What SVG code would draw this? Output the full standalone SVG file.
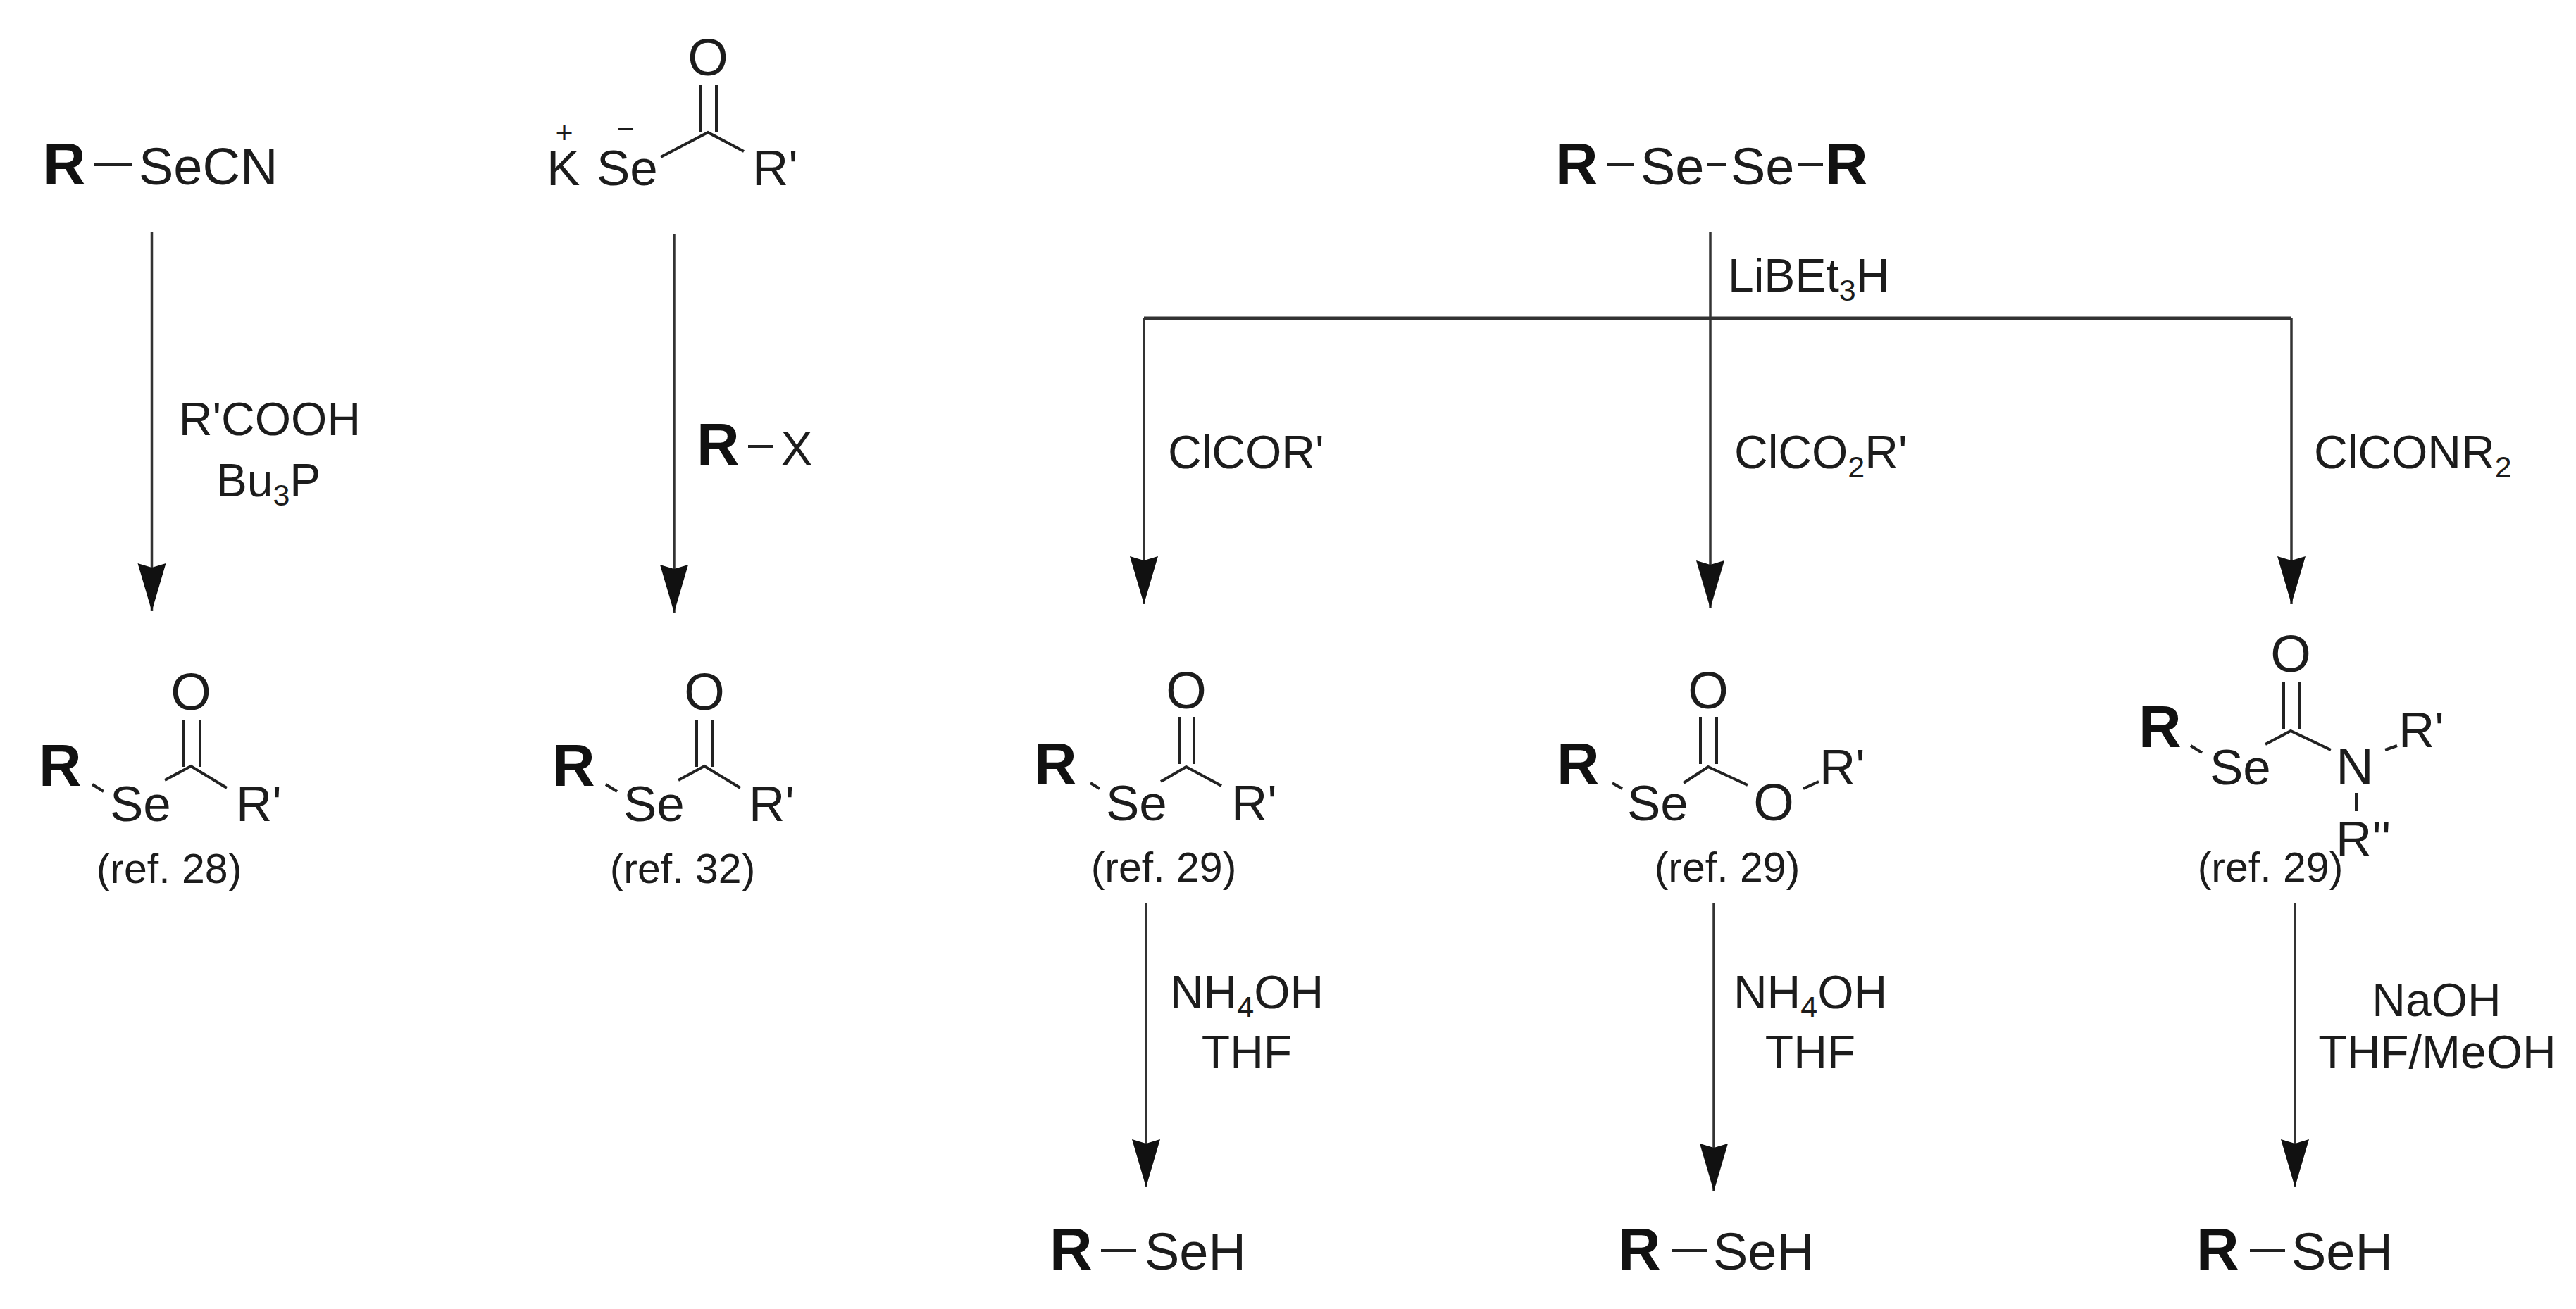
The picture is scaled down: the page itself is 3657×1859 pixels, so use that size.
<svg xmlns="http://www.w3.org/2000/svg" width="3657" height="1859" viewBox="0 0 3657 1859">
<defs>
<style>
text{font-family:"Liberation Sans",Arial,sans-serif;fill:#1c1c1c}
.a{font-size:71px}
.t{font-size:74px}
.b{font-size:84px;font-weight:bold;fill:#111}
.l{font-size:66px}
.r{font-size:59px}
.s{font-size:43px}
.bond{stroke:#222;stroke-width:4;fill:none}
.arr{stroke:#333;stroke-width:3.5;fill:none;marker-end:url(#head)}
.ln{stroke:#333;stroke-width:3.5;fill:none}
</style>
<marker id="head" markerUnits="userSpaceOnUse" markerWidth="44" markerHeight="72" viewBox="0 0 44 72" refX="22" refY="68" orient="0" overflow="visible">
<path d="M2 0L22 68L42 0L22 6Z" fill="#111"/>
</marker>
</defs>
<rect width="3657" height="1859" fill="#fff"/>
<g id="connectors">
<path class="arr" d="M215.500 329V868"/>
<path class="arr" d="M957 333V870"/>
<path class="ln" d="M2428 330V455"/>
<path class="ln" style="stroke-width:5" d="M1624 452H3253"/>
<path class="arr" d="M1624 452V858"/>
<path class="arr" d="M2428 452V864"/>
<path class="arr" d="M3253 452V858"/>
<path class="arr" d="M1627 1282V1686"/>
<path class="arr" d="M2433 1282V1692"/>
<path class="arr" d="M3258 1282V1686"/>
</g>
<g id="rsecn"><text class="b" x="61" y="262">R</text><path class="bond" d="M134 234H187"/><text class="t" x="197" y="262">SeCN</text></g>
<g id="kse"><text class="a" x="776" y="263">K</text><text class="s" x="801" y="203" text-anchor="middle">+</text><text class="s" x="888" y="198" text-anchor="middle">−</text><text class="a" x="847" y="263">Se</text><text class="t" x="1005" y="107" text-anchor="middle">O</text><path class="bond" d="M938 223L1005 188L1056 215M995 121V187M1017 121V187"/><text class="a" x="1068" y="263">R'</text></g>
<g id="lab1"><text class="l" x="383" y="618" text-anchor="middle">R'COOH</text><text class="l" x="381" y="705" text-anchor="middle">Bu<tspan class="s" dy="13">3</tspan><tspan dy="-13">P</tspan></text></g>
<g id="lab2"><text class="b" x="989" y="660">R</text><path class="bond" d="M1062 634H1098"/><text class="l" x="1109" y="660">X</text></g>
<g id="p28"><text class="b" x="55" y="1116">R</text><path class="bond" d="M131 1114L147 1124M234 1108L271 1088L322 1119M261 1023V1089M284 1023V1089"/><text class="a" x="156" y="1166">Se</text><text class="t" x="271" y="1008" text-anchor="middle">O</text><text class="a" x="335" y="1166">R'</text><text class="r" x="240" y="1254" text-anchor="middle">(ref. 28)</text></g>
<g id="p32"><text class="b" x="784" y="1116">R</text><path class="bond" d="M860 1114L876 1124M963 1108L1000 1088L1051 1119M989 1023V1089M1012 1023V1089"/><text class="a" x="885" y="1166">Se</text><text class="t" x="1000" y="1008" text-anchor="middle">O</text><text class="a" x="1063" y="1166">R'</text><text class="r" x="969" y="1254" text-anchor="middle">(ref. 32)</text></g>
<g id="rsesr"><text class="b" x="2208" y="262">R</text><path class="bond" d="M2281 234H2319M2424 234H2450M2552 234H2588"/><text class="t" x="2329" y="262">Se</text><text class="t" x="2457" y="262">Se</text><text class="b" x="2591" y="262">R</text></g>
<g id="lab3"><text class="l" x="2453" y="414">LiBEt<tspan class="s" dy="13">3</tspan><tspan dy="-13">H</tspan></text></g>
<g id="lab4"><text class="l" x="1658" y="665">ClCOR'</text></g>
<g id="lab5"><text class="l" x="2462" y="665">ClCO<tspan class="s" dy="13">2</tspan><tspan dy="-13">R'</tspan></text></g>
<g id="lab6"><text class="l" x="3285" y="665">ClCONR<tspan class="s" dy="13">2</tspan></text></g>
<g id="pa"><text class="b" x="1468" y="1114">R</text><path class="bond" d="M1548 1112L1561 1120M1648 1110L1684 1089L1734 1116M1674 1018V1085M1695 1018V1085"/><text class="a" x="1570" y="1165">Se</text><text class="t" x="1684" y="1006" text-anchor="middle">O</text><text class="a" x="1748" y="1165">R'</text><text class="r" x="1652" y="1252" text-anchor="middle">(ref. 29)</text></g>
<g id="pb"><text class="b" x="2210" y="1114">R</text><path class="bond" d="M2289 1112L2303 1120M2390 1112L2425 1089L2481 1115M2560 1120L2582 1110M2414 1018V1085M2437 1018V1085"/><text class="a" x="2310" y="1165">Se</text><text class="t" x="2425" y="1006" text-anchor="middle">O</text><text class="t" x="2518" y="1165" text-anchor="middle">O</text><text class="a" x="2583" y="1114">R'</text><text class="r" x="2452" y="1252" text-anchor="middle">(ref. 29)</text></g>
<g id="pc"><text class="b" x="3036" y="1061">R</text><path class="bond" d="M3110 1059L3126 1069M3216 1057L3252 1038L3309 1065M3386 1065L3403 1059M3345 1126V1152M3242 969V1036M3265 969V1036"/><text class="a" x="3137" y="1114">Se</text><text class="t" x="3252" y="954" text-anchor="middle">O</text><text class="t" x="3343" y="1114" text-anchor="middle">N</text><text class="a" x="3405" y="1061">R'</text><text class="a" x="3316" y="1216">R''</text><text class="r" x="3223" y="1252" text-anchor="middle">(ref. 29)</text></g>
<g id="lab7"><text class="l" x="1770" y="1432" text-anchor="middle">NH<tspan class="s" dy="13">4</tspan><tspan dy="-13">OH</tspan></text><text class="l" x="1770" y="1517" text-anchor="middle">THF</text></g>
<g id="lab8"><text class="l" x="2570" y="1432" text-anchor="middle">NH<tspan class="s" dy="13">4</tspan><tspan dy="-13">OH</tspan></text><text class="l" x="2570" y="1517" text-anchor="middle">THF</text></g>
<g id="lab9"><text class="l" x="3459" y="1443" text-anchor="middle">NaOH</text><text class="l" x="3460" y="1517" text-anchor="middle">THF/MeOH</text></g>
<g id="sa"><text class="b" x="1490" y="1803">R</text><path class="bond" d="M1563 1776H1613"/><text class="t" x="1625" y="1803">SeH</text></g>
<g id="sb"><text class="b" x="2297" y="1803">R</text><path class="bond" d="M2373 1776H2423"/><text class="t" x="2432" y="1803">SeH</text></g>
<g id="sc"><text class="b" x="3118" y="1803">R</text><path class="bond" d="M3194 1776H3244"/><text class="t" x="3253" y="1803">SeH</text></g>
</svg>
